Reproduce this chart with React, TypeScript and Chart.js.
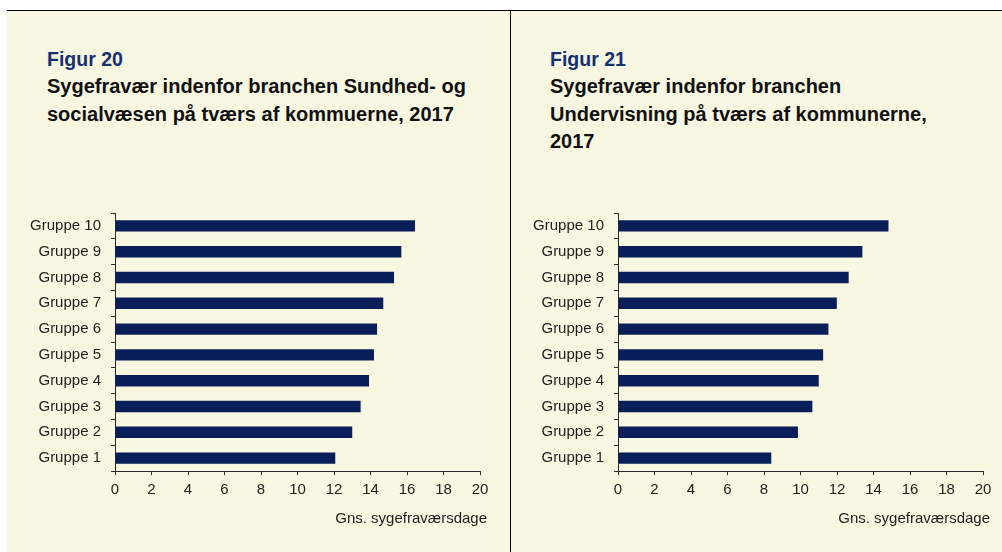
import React, { useEffect, useRef } from "react";
import { Chart, registerables } from "chart.js";

Chart.register(...registerables);

// ---- data ----
const categories = [
  "Gruppe 1",
  "Gruppe 2",
  "Gruppe 3",
  "Gruppe 4",
  "Gruppe 5",
  "Gruppe 6",
  "Gruppe 7",
  "Gruppe 8",
  "Gruppe 9",
  "Gruppe 10",
];
const sundhedValues = [12.07, 13.0, 13.46, 13.92, 14.19, 14.36, 14.7, 15.29, 15.69, 16.44];
const undervisningValues = [8.4, 9.86, 10.65, 11.0, 11.24, 11.53, 11.99, 12.64, 13.39, 14.82];
const xMin = 0;
const xMax = 20;
const xStep = 2;
const axisTitle = "Gns. sygefraværsdage";

const leftFigure = "Figur 20";
const leftTitleLines = ["Sygefravær indenfor branchen Sundhed- og", "socialvæsen på tværs af kommuerne, 2017"];
const rightFigure = "Figur 21";
const rightTitleLines = ["Sygefravær indenfor branchen", "Undervisning på tværs af kommunerne,", "2017"];

// ---- styles ----
const FONT = "'Liberation Sans', Arial, Helvetica, sans-serif";
const BG = "#f8f7e1";
const BAR = "#0a1e5a";
const AXIS = "#2a2a2a";
const TEXT = "#1e1e1e";
const NAVY = "#15306f";

// draws the x-axis title right-aligned slightly past the axis end, as in the reference
const axisTitlePlugin = {
  id: "axisTitleRight",
  afterDraw(chart: any) {
    const x = chart.scales.x;
    if (!x) return;
    const ctx = chart.ctx;
    ctx.save();
    ctx.font = `15px ${FONT}`;
    ctx.fillStyle = TEXT;
    ctx.textAlign = "right";
    ctx.textBaseline = "middle";
    ctx.fillText(axisTitle, x.right + 7, x.bottom - 33);
    ctx.restore();
  },
};

type BarProps = {
  values: number[];
  left: number;
  width: number;
  yWidth: number;
  padRight: number;
};

function BarChart({ values, left, width, yWidth, padRight }: BarProps) {
  const ref = useRef<HTMLCanvasElement | null>(null);
  const height = 362;
  useEffect(() => {
    if (!ref.current) return;
    const tickFont = { family: FONT, size: 15 };
    const chart = new Chart(ref.current, {
      type: "bar",
      data: {
        labels: categories,
        datasets: [
          {
            data: values,
            backgroundColor: BAR,
            borderWidth: 0,
            barPercentage: 0.44,
            categoryPercentage: 1,
          },
        ],
      },
      options: {
        indexAxis: "y",
        animation: false,
        responsive: false,
        maintainAspectRatio: false,
        devicePixelRatio: 1,
        layout: { padding: { top: 23, right: padRight, bottom: 0, left: 0 } },
        plugins: {
          legend: { display: false },
          tooltip: { enabled: false },
          title: { display: false },
        },
        scales: {
          x: {
            type: "linear",
            min: xMin,
            max: xMax,
            ticks: { stepSize: xStep, color: TEXT, font: tickFont, padding: 6 },
            grid: { drawOnChartArea: false, drawTicks: true, tickLength: 4, color: AXIS },
            border: { display: true, color: AXIS, width: 1 },
            title: { display: false },
            afterFit: (s: any) => {
              s.height = 81;
            },
          },
          y: {
            type: "category",
            reverse: true,
            ticks: { color: TEXT, font: tickFont, padding: 10, autoSkip: false },
            grid: { drawOnChartArea: false, drawTicks: true, tickLength: 4, color: AXIS, offset: true },
            border: { display: true, color: AXIS, width: 1 },
            afterFit: (s: any) => {
              s.width = yWidth;
            },
          },
        },
      } as any,
      plugins: [axisTitlePlugin],
    });
    return () => chart.destroy();
  }, [values, yWidth, padRight]);
  return (
    <canvas
      ref={ref}
      width={width}
      height={height}
      style={{ position: "absolute", left, top: 190, width, height }}
    />
  );
}

function Titles({ left, figure, lines }: { left: number; figure: string; lines: string[] }) {
  return (
    <>
      <div
        style={{
          position: "absolute",
          left,
          top: 47,
          fontFamily: FONT,
          fontWeight: "bold",
          fontSize: 19.5,
          lineHeight: "24px",
          color: NAVY,
          whiteSpace: "nowrap",
        }}
      >
        {figure}
      </div>
      <div
        style={{
          position: "absolute",
          left,
          top: 73,
          fontFamily: FONT,
          fontWeight: "bold",
          fontSize: 20,
          lineHeight: "27.6px",
          color: "#111",
          whiteSpace: "nowrap",
        }}
      >
        {lines.map((l, i) => (
          <div key={i}>{l}</div>
        ))}
      </div>
    </>
  );
}

export default function App() {
  return (
    <div
      style={{
        position: "absolute",
        left: 0,
        top: 0,
        width: 1002,
        height: 552,
        overflow: "hidden",
        background: "#ffffff",
      }}
    >
      <div style={{ position: "absolute", left: 7, top: 10, width: 995, height: 542, background: BG }} />
      <div style={{ position: "absolute", left: 7, top: 10, width: 995, height: 1, background: "#000" }} />
      <div style={{ position: "absolute", left: 510, top: 10, width: 1, height: 542, background: "#000" }} />
      <Titles left={47} figure={leftFigure} lines={leftTitleLines} />
      <Titles left={550} figure={rightFigure} lines={rightTitleLines} />
      <BarChart values={sundhedValues} left={7} width={503} yWidth={108} padRight={30} />
      <BarChart values={undervisningValues} left={511} width={491} yWidth={107} padRight={19} />
    </div>
  );
}
